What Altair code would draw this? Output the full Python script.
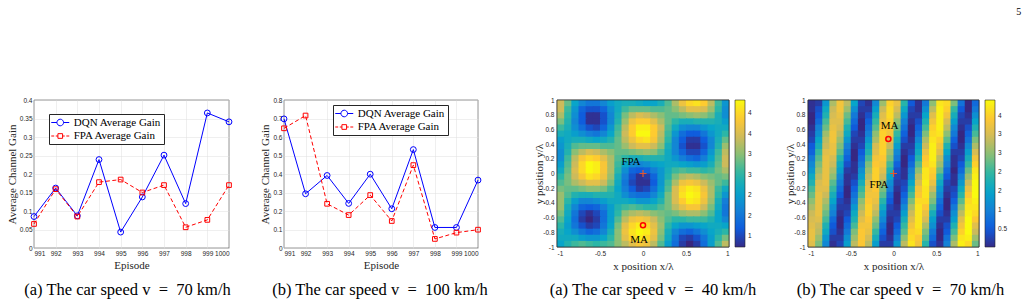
import altair as alt
import numpy as np
import pandas as pd

SERIF = "Liberation Serif"
SANS = "Liberation Sans"
AX = "#262626"
GRID = "#dfdfdf"

# ---------------- line-chart data ----------------
episodes = [991, 992, 993, 994, 995, 996, 997, 998, 999, 1000]
dqn_70 = [0.085, 0.162, 0.087, 0.239, 0.043, 0.138, 0.251, 0.120, 0.365, 0.341]
fpa_70 = [0.065, 0.159, 0.085, 0.178, 0.185, 0.150, 0.170, 0.056, 0.076, 0.170]
dqn_100 = [0.698, 0.293, 0.392, 0.241, 0.399, 0.212, 0.532, 0.111, 0.111, 0.367]
fpa_100 = [0.647, 0.716, 0.239, 0.178, 0.286, 0.146, 0.448, 0.049, 0.083, 0.099]
yticks_70 = [0, 0.05, 0.1, 0.15, 0.2, 0.25, 0.3, 0.35, 0.4]
yticks_100 = [0, 0.1, 0.2, 0.3, 0.4, 0.5, 0.6, 0.7, 0.8]
series_names = ["DQN Average Gain", "FPA Average Gain"]
series_colors = ["#0000FF", "#FF0000"]
legend_paths = [
    "M-4,0H-1.47M1.47,0H4M1.47,0A1.47,1.47 0 1 1 -1.47,0A1.47,1.47 0 1 1 1.47,0",
    "M-4,0H-2.7M-2,0H-1.04M1.04,0H2M2.7,0H4M-1.04,-1.04H1.04V1.04H-1.04Z",
]

# ---------------- heatmap data: channel gain, tenths, rows from y=+1 (top) to y=-1 ----------------
gain_40_tenths = [
    [34, 28, 21, 17, 15, 15, 17, 20, 22, 23, 23, 22, 21, 21, 23, 27, 32, 37, 40, 41, 39, 33, 26, 19],
    [34, 26, 19, 13, 11, 11, 13, 18, 22, 26, 28, 28, 28, 27, 27, 28, 30, 33, 36, 36, 35, 31, 25, 18],
    [32, 25, 18, 12, 8, 8, 11, 17, 23, 29, 33, 35, 34, 32, 30, 28, 28, 29, 30, 31, 30, 28, 23, 18],
    [29, 24, 17, 12, 8, 8, 11, 17, 24, 31, 37, 39, 39, 36, 32, 28, 25, 23, 23, 24, 24, 24, 23, 20],
    [26, 23, 18, 14, 11, 10, 13, 19, 26, 33, 39, 42, 42, 39, 34, 27, 22, 18, 17, 17, 19, 21, 22, 22],
    [23, 22, 20, 18, 16, 15, 17, 21, 27, 34, 39, 43, 43, 39, 33, 26, 19, 14, 12, 12, 15, 19, 22, 25],
    [20, 22, 23, 23, 22, 21, 22, 24, 28, 33, 37, 40, 41, 38, 32, 25, 17, 12, 9, 9, 12, 17, 23, 28],
    [19, 23, 27, 28, 28, 28, 27, 27, 28, 31, 34, 36, 36, 34, 30, 23, 17, 11, 8, 8, 11, 17, 24, 31],
    [18, 24, 30, 33, 35, 34, 32, 30, 28, 28, 29, 30, 31, 30, 27, 22, 17, 13, 10, 10, 13, 19, 26, 33],
    [18, 26, 33, 38, 40, 39, 36, 32, 27, 25, 23, 23, 24, 24, 24, 22, 19, 16, 14, 13, 16, 21, 27, 34],
    [20, 27, 34, 40, 43, 42, 38, 32, 26, 21, 18, 17, 18, 20, 21, 22, 22, 21, 20, 19, 20, 23, 28, 34],
    [22, 28, 35, 40, 43, 42, 38, 32, 25, 18, 13, 12, 13, 16, 19, 23, 26, 27, 26, 26, 25, 26, 29, 32],
    [25, 29, 34, 38, 41, 40, 37, 31, 23, 16, 11, 8, 9, 13, 19, 24, 29, 32, 33, 32, 30, 29, 28, 29],
    [27, 29, 32, 34, 36, 36, 34, 29, 22, 15, 10, 8, 8, 12, 19, 26, 32, 37, 38, 37, 34, 31, 28, 26],
    [29, 28, 28, 29, 30, 30, 29, 26, 21, 16, 12, 9, 10, 14, 20, 27, 35, 40, 42, 41, 37, 32, 26, 22],
    [31, 27, 24, 23, 23, 24, 24, 24, 22, 18, 15, 14, 14, 17, 22, 29, 35, 41, 43, 42, 38, 32, 25, 19],
    [31, 25, 20, 17, 17, 18, 20, 22, 22, 22, 21, 19, 19, 21, 24, 29, 35, 39, 42, 41, 37, 31, 23, 16],
    [31, 23, 17, 13, 12, 13, 16, 20, 24, 26, 27, 26, 25, 25, 27, 29, 33, 36, 38, 38, 34, 29, 22, 15],
    [29, 22, 15, 10, 8, 10, 14, 20, 25, 30, 32, 33, 32, 30, 29, 28, 29, 31, 32, 32, 30, 27, 21, 15],
    [27, 21, 14, 9, 7, 9, 14, 20, 27, 33, 37, 38, 37, 34, 30, 27, 25, 25, 26, 26, 26, 24, 21, 17],
    [25, 20, 15, 11, 9, 10, 15, 21, 29, 36, 40, 42, 40, 36, 31, 25, 21, 19, 19, 20, 21, 22, 22, 21],
    [23, 21, 18, 15, 13, 14, 17, 23, 30, 37, 41, 43, 42, 37, 30, 23, 17, 14, 13, 15, 18, 21, 23, 25],
    [22, 22, 22, 20, 19, 19, 21, 25, 30, 36, 40, 42, 40, 36, 29, 22, 15, 10, 9, 11, 15, 20, 25, 29],
    [21, 24, 26, 27, 26, 25, 26, 27, 30, 33, 36, 38, 37, 33, 27, 20, 14, 9, 7, 9, 14, 20, 27, 33],
]
gain_70_tenths = [
    [1, 2, 13, 27, 33, 28, 15, 3, 1, 11, 26, 35, 32, 19, 5, 1, 9, 25, 37, 36, 24, 8, 0, 7],
    [1, 4, 16, 29, 33, 26, 12, 2, 2, 14, 29, 36, 30, 16, 3, 1, 12, 28, 38, 35, 20, 5, 0, 9],
    [0, 5, 18, 30, 32, 23, 9, 1, 4, 17, 31, 36, 28, 13, 2, 2, 15, 31, 38, 33, 17, 3, 1, 12],
    [0, 7, 21, 31, 31, 21, 7, 0, 6, 20, 32, 35, 25, 10, 1, 4, 18, 33, 38, 30, 14, 2, 2, 15],
    [1, 10, 23, 32, 30, 18, 5, 0, 8, 22, 34, 34, 23, 8, 0, 6, 21, 35, 38, 28, 11, 1, 4, 18],
    [2, 12, 26, 33, 28, 16, 3, 1, 10, 25, 35, 33, 20, 6, 0, 8, 24, 36, 37, 25, 9, 0, 6, 21],
    [3, 15, 28, 33, 26, 13, 2, 2, 13, 27, 35, 31, 17, 4, 1, 11, 27, 37, 35, 22, 6, 0, 8, 24],
    [5, 17, 29, 32, 24, 10, 1, 3, 16, 30, 35, 29, 14, 2, 2, 14, 29, 38, 33, 18, 4, 1, 11, 27],
    [6, 20, 31, 32, 22, 8, 0, 5, 18, 31, 35, 26, 11, 1, 3, 16, 32, 38, 31, 15, 2, 2, 14, 30],
    [9, 22, 32, 30, 19, 6, 0, 7, 21, 33, 34, 24, 9, 0, 5, 19, 34, 38, 28, 12, 1, 3, 17, 33],
    [11, 24, 32, 29, 16, 4, 1, 9, 24, 34, 33, 21, 6, 0, 7, 22, 35, 37, 26, 10, 1, 5, 20, 35],
    [13, 26, 32, 27, 14, 2, 1, 12, 26, 35, 31, 18, 4, 1, 10, 25, 37, 35, 23, 7, 0, 7, 23, 37],
    [16, 28, 32, 25, 11, 1, 2, 14, 28, 35, 29, 15, 3, 1, 12, 28, 37, 34, 19, 5, 1, 10, 26, 38],
    [18, 30, 32, 22, 9, 1, 4, 17, 30, 35, 27, 12, 2, 3, 15, 30, 38, 32, 16, 3, 1, 13, 29, 39],
    [21, 31, 31, 20, 7, 0, 6, 20, 32, 34, 24, 10, 1, 4, 18, 33, 37, 29, 13, 2, 3, 16, 32, 39],
    [23, 32, 29, 17, 5, 0, 8, 22, 33, 33, 22, 7, 0, 6, 21, 34, 37, 26, 11, 1, 4, 19, 34, 39],
    [25, 32, 27, 15, 3, 1, 10, 25, 34, 32, 19, 5, 0, 8, 24, 36, 36, 24, 8, 0, 6, 22, 36, 38],
    [27, 32, 25, 12, 2, 2, 13, 27, 35, 30, 16, 3, 1, 11, 27, 37, 34, 21, 6, 0, 9, 25, 37, 37],
    [29, 32, 23, 10, 1, 3, 16, 29, 35, 28, 13, 2, 2, 14, 29, 37, 32, 17, 4, 1, 12, 28, 38, 36],
    [30, 31, 21, 7, 0, 5, 18, 31, 34, 25, 11, 1, 3, 17, 31, 37, 30, 14, 2, 2, 14, 31, 39, 34],
    [31, 29, 18, 5, 0, 7, 21, 33, 33, 23, 8, 0, 5, 20, 33, 37, 27, 12, 1, 4, 18, 33, 39, 31],
    [32, 28, 16, 4, 1, 9, 24, 34, 32, 20, 6, 0, 7, 22, 35, 36, 24, 9, 0, 5, 21, 35, 39, 29],
    [32, 26, 13, 2, 2, 12, 26, 34, 30, 17, 4, 1, 10, 25, 36, 34, 22, 7, 0, 8, 24, 37, 38, 26],
    [31, 24, 11, 1, 3, 14, 28, 34, 28, 14, 2, 2, 13, 28, 37, 33, 19, 4, 1, 10, 27, 38, 36, 23],
]
gain_40 = [[t / 10 for t in row] for row in gain_40_tenths]
gain_70 = [[t / 10 for t in row] for row in gain_70_tenths]

x_ticks_h = [-1, -0.5, 0, 0.5, 1]
y_ticks_h = [-1, -0.8, -0.6, -0.4, -0.2, 0, 0.2, 0.4, 0.6, 0.8, 1]
cb_ticks_40 = [1, 1.5, 2, 2.5, 3, 3.5, 4]
cb_ticks_70 = [0.5, 1, 1.5, 2, 2.5, 3, 3.5]
cb_range_40 = [0.74, 4.32]
cb_range_70 = [0.03, 3.91]
PARULA = ["#352A87", "#0F5CDD", "#1481D6", "#06A4CA", "#2EB7A4",
          "#87BF77", "#D1BB59", "#FEC832", "#F9FB0E"]

LBL = "datum.value < 0 ? '-' + format(-datum.value, '~g') : format(datum.value, '~g')"
SYM_STROKE = f"datum.value === '{series_names[0]}' ? '{series_colors[0]}' : '{series_colors[1]}'"
CAP_FONT = 16.5


def line_panel(dqn, fpa, yticks, ymax, caption, lx, ly, width, title_x, cap_dx):
    df = pd.DataFrame({
        "episode": episodes + episodes,
        "gain": dqn + fpa,
        "series": [series_names[0]] * len(episodes) + [series_names[1]] * len(episodes),
    })
    x = alt.X("episode:Q", scale=alt.Scale(domain=[episodes[0], episodes[-1]], nice=False, zero=False),
              axis=alt.Axis(values=episodes, format="d", title="Episode", grid=True, domain=False,
                            labelPadding=2.5, titleY=17, titleBaseline="middle"))
    y = alt.Y("gain:Q", scale=alt.Scale(domain=[0, ymax], nice=False),
              axis=alt.Axis(values=yticks, format="~g", title="Average Channel Gain", grid=True,
                            domain=False, labelPadding=2, titleX=title_x, titleY=74,
                            titleBaseline="middle"))
    base = alt.Chart(df)
    is_dqn = alt.FieldEqualPredicate(field="series", equal=series_names[0])
    is_fpa = alt.FieldEqualPredicate(field="series", equal=series_names[1])
    dqn_line = base.transform_filter(is_dqn).mark_line(color=series_colors[0], strokeWidth=1).encode(x=x, y=y)
    fpa_line = base.transform_filter(is_fpa).mark_line(color=series_colors[1], strokeWidth=1,
                                                       strokeDash=[4, 2.5]).encode(x=x, y=y)
    dqn_pts = base.transform_filter(is_dqn).mark_point(shape="circle", filled=False, color=series_colors[0],
                                                       size=34, strokeWidth=1, opacity=1).encode(x=x, y=y)
    fpa_pts = base.transform_filter(is_fpa).mark_point(shape="square", filled=False, color=series_colors[1],
                                                       size=22, strokeWidth=1, opacity=1).encode(x=x, y=y)
    leg = alt.Legend(orient="none", legendX=lx, legendY=ly, title=None, labelFont=SERIF,
                     labelFontSize=11, labelColor="black", symbolSize=20.25, symbolStrokeWidth=1,
                     symbolOffset=2.75, labelOffset=8, padding=3, rowPadding=1.5,
                     strokeColor=AX, fillColor="white", cornerRadius=0, symbolOpacity=1,
                     symbolStrokeColor=alt.ExprRef(SYM_STROKE), symbolFillColor="transparent")
    ghost = base.transform_calculate(gain="-1").mark_point(filled=False, clip=True, strokeWidth=1,
                                                          size=20.25, opacity=1).encode(
        x=x, y=y,
        shape=alt.Shape("series:N", scale=alt.Scale(domain=series_names, range=legend_paths), legend=leg),
    )
    return alt.layer(dqn_line, fpa_line, dqn_pts, fpa_pts, ghost).properties(
        width=width, height=148,
        title=alt.TitleParams(caption, orient="bottom", font=SERIF, fontSize=CAP_FONT, fontWeight="normal",
                              color="black", anchor="middle", frame="group", dx=cap_dx, offset=12))


def heat_panel(grid, rng, cb_ticks, caption, fpa_xy, ma_xy, fpa_lbl, ma_lbl, width, legend_x, cap_dx):
    n = len(grid)
    edges = np.linspace(-1, 1, n + 1)
    lap = 0.012  # tiny overlap so neighbouring cells leave no seams
    rows = []
    for r, row in enumerate(grid):
        for c, val in enumerate(row):
            rows.append({"x0": edges[c], "x1": edges[c + 1] + lap, "y0": edges[n - r - 1] - lap,
                         "y1": edges[n - r], "val": val})
    cells = pd.DataFrame(rows)
    xs = alt.Scale(domain=[-1, 1], nice=False, zero=False)
    ys = alt.Scale(domain=[-1, 1], nice=False, zero=False)
    xax = alt.Axis(values=x_ticks_h, labelExpr=LBL, title="x position x/\u03bb", grid=False, domain=False,
                   labelPadding=3, titleY=19, titleBaseline="middle")
    yax = alt.Axis(values=y_ticks_h, labelExpr=LBL, title="y position y/\u03bb", grid=False, domain=False,
                   labelPadding=3, titleX=-18, titleY=73.5, titleBaseline="middle")

    def X(f):
        return alt.X(f, scale=xs, axis=xax)

    def Y(f):
        return alt.Y(f, scale=ys, axis=yax)

    cscale = alt.Scale(domain=rng, range=PARULA, interpolate="rgb")
    leg = alt.Legend(orient="none", legendX=legend_x, legendY=0, direction="vertical", gradientLength=147,
                     gradientThickness=10, title=None, values=cb_ticks, format="~g", labelFont=SANS,
                     labelFontSize=6.5, labelColor=AX, labelOffset=3, gradientStrokeColor=AX,
                     gradientStrokeWidth=0.6, padding=0, labelOverlap=False, type="gradient")
    heat = alt.Chart(cells).mark_rect(clip=True).encode(
        x=X("x0:Q"), x2="x1:Q", y=Y("y0:Q"), y2="y1:Q",
        color=alt.Color("val:Q", scale=cscale, legend=leg),
    )
    frame = alt.Chart(pd.DataFrame({"x0": [-1], "x1": [1], "y0": [-1], "y1": [1]})).mark_rect(
        fillOpacity=0, stroke=AX, strokeWidth=0.7).encode(x=X("x0:Q"), x2="x1:Q", y=Y("y0:Q"), y2="y1:Q")
    pts = pd.DataFrame({"px": [fpa_xy[0], ma_xy[0]], "py": [fpa_xy[1], ma_xy[1]],
                        "lx": [fpa_lbl[0], ma_lbl[0]], "ly": [fpa_lbl[1], ma_lbl[1]],
                        "name": ["FPA", "MA"]})
    base = alt.Chart(pts)
    plus = base.transform_filter(alt.FieldEqualPredicate(field="name", equal="FPA")).mark_point(
        shape="M-1,0H1M0,-1V1", size=49, strokeWidth=1.2, color="#E4572E", filled=False, opacity=1
    ).encode(x=X("px:Q"), y=Y("py:Q"))
    circ = base.transform_filter(alt.FieldEqualPredicate(field="name", equal="MA")).mark_point(
        shape="circle", size=26, strokeWidth=1.5, color="#FF0000", filled=False, opacity=1
    ).encode(x=X("px:Q"), y=Y("py:Q"))
    txt = base.mark_text(font=SERIF, fontSize=11, color="black").encode(
        x=X("lx:Q"), y=Y("ly:Q"), text="name:N")
    return alt.layer(heat, frame, plus, circ, txt).properties(
        width=width, height=147,
        title=alt.TitleParams(caption, orient="bottom", font=SERIF, fontSize=CAP_FONT, fontWeight="normal",
                              color="black", anchor="middle", frame="group", dx=cap_dx, offset=11))


def spacer(w):
    return alt.Chart(pd.DataFrame({"a": [0]})).mark_point(opacity=0).encode(
        x=alt.X("a:Q", axis=None), y=alt.Y("a:Q", axis=None)
    ).properties(width=w, height=148, view=alt.ViewBackground(stroke="transparent"))


EQ = "\u2002=\u2002"
p1 = line_panel(dqn_70, fpa_70, yticks_70, 0.4, f"(a) The car speed v{EQ}70 km/h", 15, 14, 195, -22, -4)
p2 = line_panel(dqn_100, fpa_100, yticks_100, 0.8, f"(b) The car speed v{EQ}100 km/h", 49, 5, 194, -19, -1)
p3 = heat_panel(gain_40, cb_range_40, cb_ticks_40, f"(a) The car speed v{EQ}40 km/h",
                (0, 0), (0, -0.705), (-0.14, 0.16), (-0.045, -0.9), 172, 178, 10)
p4 = heat_panel(gain_70, cb_range_70, cb_ticks_70, f"(b) The car speed v{EQ}70 km/h",
                (0, 0), (-0.06, 0.47), (-0.17, -0.16), (-0.045, 0.64), 171, 177, 7)

chart = alt.hconcat(
    p1, spacer(55), p2, spacer(79), p3, spacer(79), p4, spacing=0, bounds="flush"
).resolve_scale(color="independent", shape="independent").resolve_legend(
    color="independent", shape="independent"
).properties(
    padding={"left": 5, "top": 6, "right": 0, "bottom": 0},
    title=alt.TitleParams("5", anchor="end", font=SERIF, fontSize=10, fontWeight="normal", color="black",
                          dx=13, offset=80),
).configure(background="white").configure_view(stroke=AX, strokeWidth=0.6).configure_axis(
    labelFont=SANS, labelFontSize=6.5, labelColor=AX, titleFont=SERIF, titleFontSize=11,
    titleFontWeight="normal", titleColor=AX, ticks=False, gridColor=GRID, gridWidth=0.5)

chart.save("out.html", embed_options={"renderer": "svg", "actions": False})
